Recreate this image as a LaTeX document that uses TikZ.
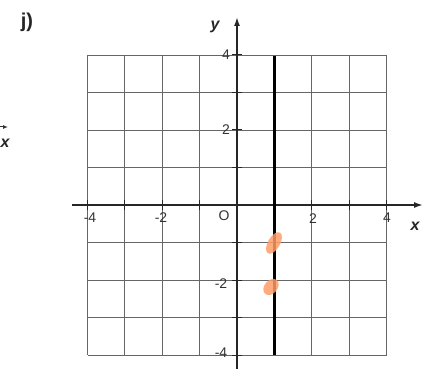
\documentclass[tikz,border=0pt]{standalone}
\usepackage{fontspec}
\setmainfont{Liberation Sans}
\usetikzlibrary{arrows.meta}
\begin{document}
\begin{tikzpicture}[x=1pt,y=-1pt,
  gridline/.style={draw=black!60,line width=0.9pt},
  axisline/.style={draw=black!85,line width=1.6pt,-{Latex[length=9pt,width=6pt]}},
  tickmark/.style={draw=black!85,line width=1pt},
  numlabel/.style={font=\fontsize{14}{14}\selectfont,text=black!80,inner sep=0pt},
  axlabel/.style={font=\fontsize{16}{16}\selectfont\bfseries\itshape,text=black!85,inner sep=0pt},
  blob/.style={fill=orange!70!red!60,opacity=0.85,draw=none}]
\useasboundingbox (0,0) rectangle (432,369);
% grid: x from -4..4 -> 88..387, y from 4..-4 -> 55..355
\def\ux{37.4}\def\uy{37.5}
\foreach \i in {-4,...,4}{
  \draw[gridline] ({237+\i*\ux},55) -- ({237+\i*\ux},355);
  \draw[gridline] (88,{205-\i*\uy}) -- (387,{205-\i*\uy});
}
% axes
\coordinate (xs) at (72,205);
\coordinate (xe) at (423,205);
\coordinate (ys) at (237,369);
\coordinate (ye) at (237,17);
\draw[axisline] (xs) -- (xe);
\draw[axisline] (ys) -- (ye);
\foreach \i in {-4,...,4}{
  \draw[tickmark] ({237+\i*\ux},200) -- ({237+\i*\ux},210);
  \draw[tickmark] (232,{205-\i*\uy}) -- (242,{205-\i*\uy});
}
% thick line x=1
\coordinate (ta) at (274.4,56);
\coordinate (tb) at (274.4,355);
\draw[black,line width=2.6pt] (ta) -- (tb);
% orange marks
\fill[blob,rotate around={60:(274,243)}] (274,243) ellipse (12pt and 6pt);
\fill[blob,rotate around={50:(271,287)}] (271,287) ellipse (9pt and 6.5pt);
% labels
\node[numlabel] (l4y) at (226,55) {4};
\node[numlabel] (l2y) at (226,130) {2};
\node[numlabel] (lm2y) at (221,284) {-2};
\node[numlabel] (lm4y) at (221,353) {-4};
\node[numlabel] (lm4x) at (90,218) {-4};
\node[numlabel] (lm2x) at (161,218) {-2};
\node[numlabel] (lo) at (224,216) {O};
\node[numlabel] (l2x) at (313,219) {2};
\node[numlabel] (l4x) at (387,218) {4};
\node[axlabel] (lx) at (415,226) {x};
\node[axlabel] (ly) at (215,27) {y};
\node[font=\fontsize{20}{20}\selectfont\bfseries,text=black!85,inner sep=0pt] (lj) at (27,22) {j)};
% cut-off piece at left edge
\coordinate (la) at (-4,127);
\coordinate (lb) at (8,127);
\draw[black!80,line width=1pt,-{Latex[length=5pt,width=4pt]}] (la) -- (lb);
\node[axlabel,anchor=west] (lxx) at (0.5,143) {x};
\end{tikzpicture}
\end{document}
